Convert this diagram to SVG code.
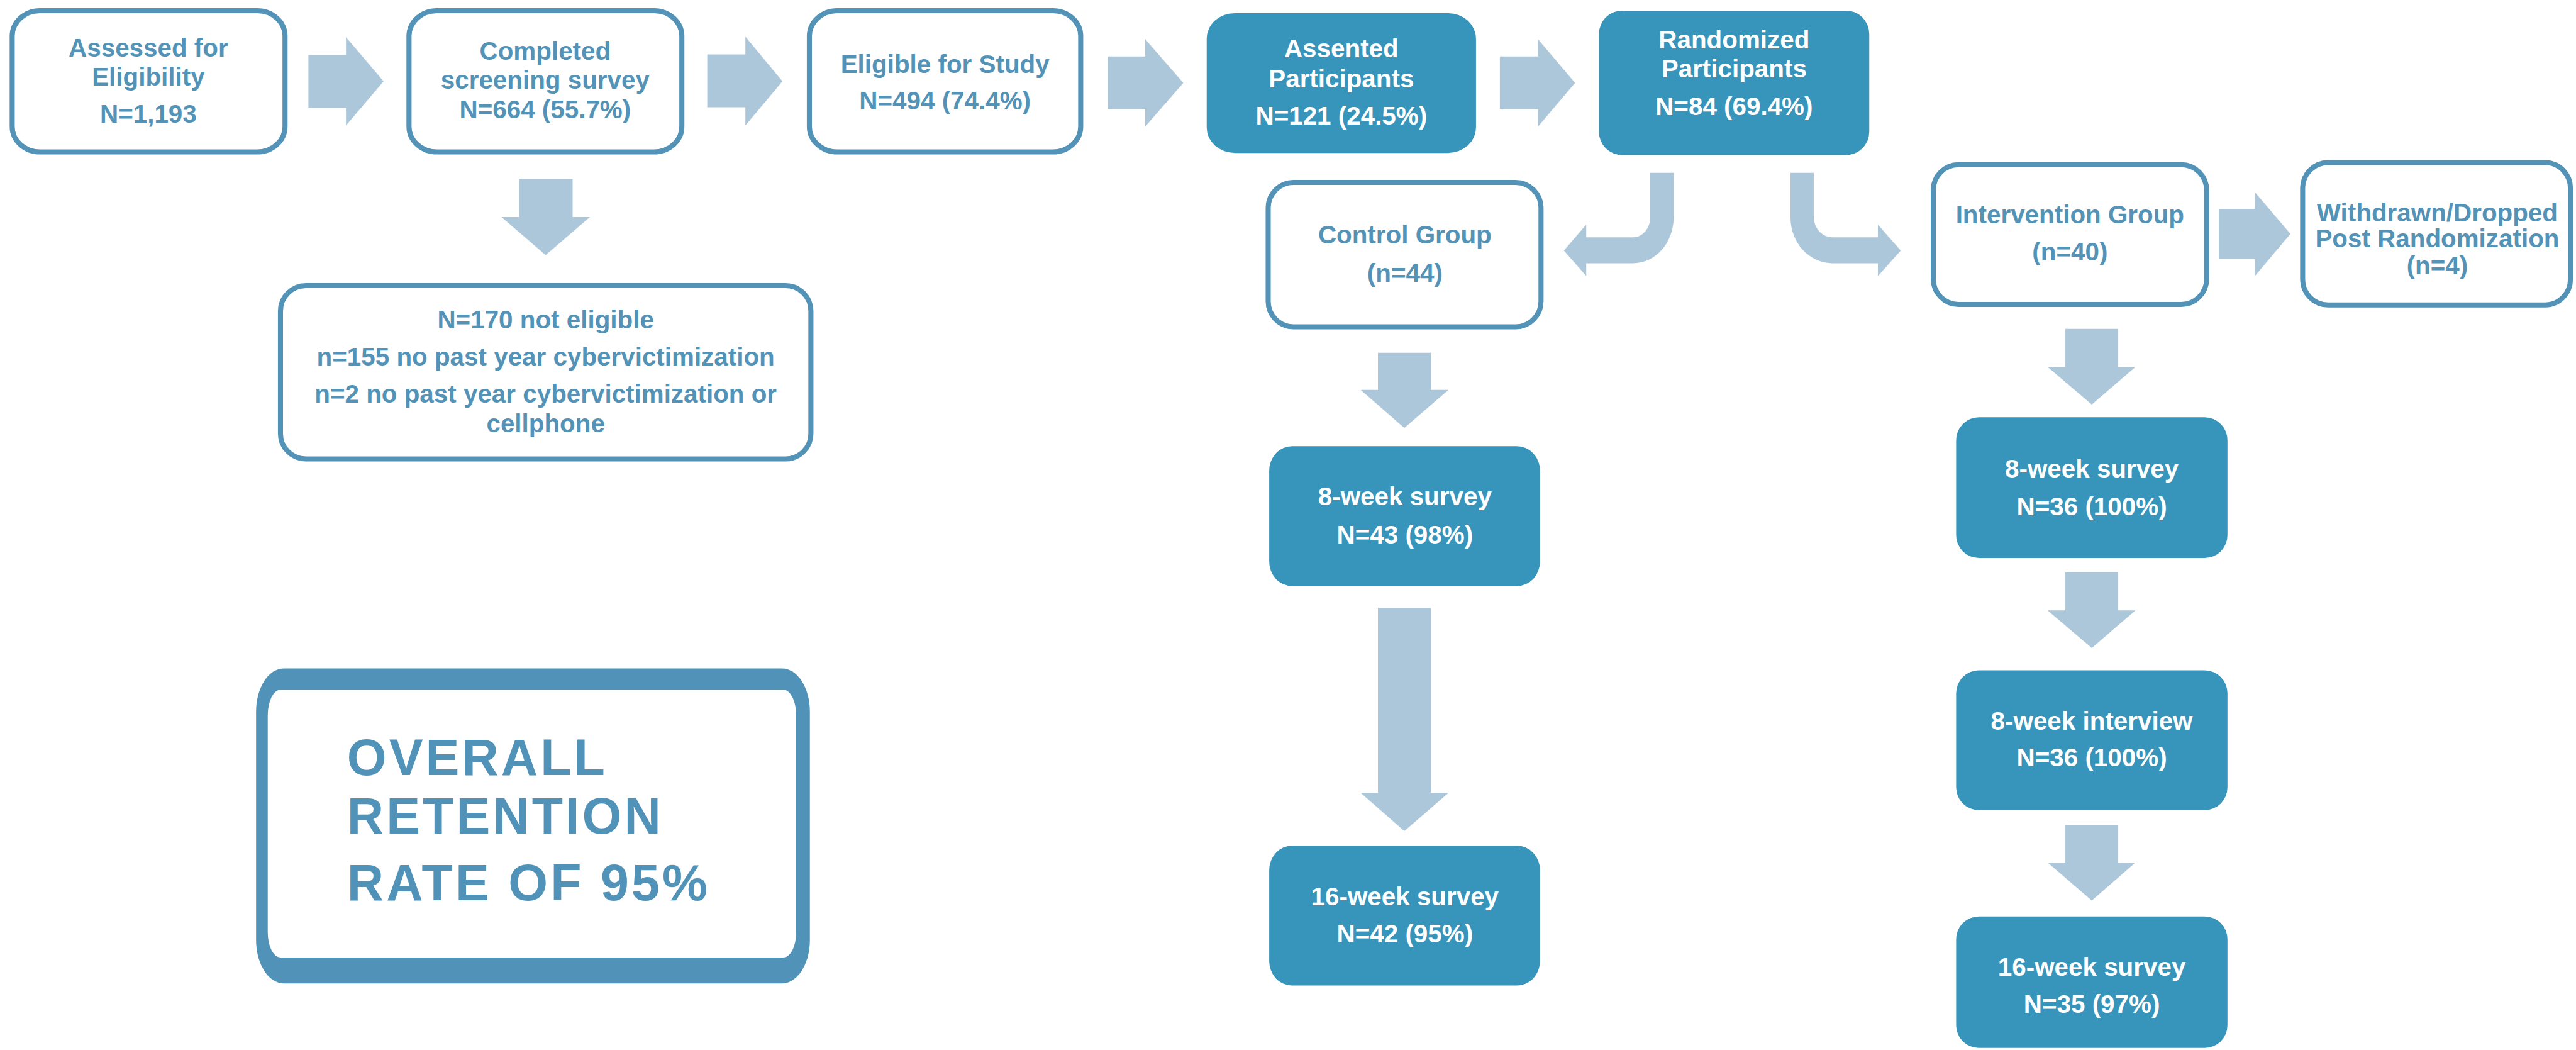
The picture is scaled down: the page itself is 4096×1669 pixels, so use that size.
<svg xmlns="http://www.w3.org/2000/svg" width="4096" height="1669" viewBox="0 0 4096 1669">
<style>
.ob{fill:#fff;stroke:#5293B7;stroke-width:10}
.fb{fill:#3795BB}
.ar{fill:#ADC7DA}
.t{font-family:"Liberation Sans",Arial,sans-serif;font-weight:bold;font-size:50px;text-anchor:middle}
.tb{fill:#5293B7}
.tw{fill:#fff}
.big{font-family:"Liberation Sans",Arial,sans-serif;font-weight:bold;font-size:100px;fill:#5193B8;letter-spacing:5px}
</style>
<rect width="4096" height="1669" fill="#fff"/>
<g transform="scale(0.80789)">
<g id="connectors">
<polygon class="ar" points="607,108 681,108 681,73 755,160 681,247 681,212 607,212"/>
<polygon class="ar" points="1392,107 1467,107 1467,72 1540,160 1467,247 1467,211 1392,211"/>
<polygon class="ar" points="2180,111 2254,111 2254,77 2329,163 2254,249 2254,215 2180,215"/>
<polygon class="ar" points="2952,111 3027,111 3027,77 3100,163 3027,249 3027,215 2952,215"/>
<polygon class="ar" points="1022,352 1127,352 1127,427 1161,427 1074,502 987,427 1022,427"/>
<path class="ar" d="M3248,340 L3294,340 L3294,428 A80,90 0 0 1 3214,518 L3122,518 L3122,543 L3078,493 L3122,442 L3122,467 L3214,467 A34,39 0 0 0 3248,428 Z"/>
<path class="ar" d="M3524,340 L3570,340 L3570,428 A37,39 0 0 0 3607,467 L3696,467 L3696,442 L3741,493 L3696,543 L3696,518 L3607,518 A83,90 0 0 1 3524,428 Z"/>
<polygon class="ar" points="4367,411 4438,411 4438,378 4508,460 4438,543 4438,510 4367,510"/>
<polygon class="ar" points="2712,694 2816,694 2816,767 2851,767 2764,842 2678,767 2712,767"/>
<polygon class="ar" points="2712,1196 2816,1196 2816,1560 2851,1560 2764,1635 2678,1560 2712,1560"/>
<polygon class="ar" points="4065,647 4169,647 4169,722 4203,722 4117,796 4030,722 4065,722"/>
<polygon class="ar" points="4065,1126 4169,1126 4169,1201 4203,1201 4117,1275 4030,1201 4065,1201"/>
<polygon class="ar" points="4065,1623 4169,1623 4169,1697 4203,1697 4117,1772 4030,1697 4065,1697"/>
</g>
<g id="assessed">
<rect class="ob" x="24" y="21" width="537" height="278" rx="55" ry="50"/>
<text class="t tb"><tspan x="292" y="111">Assessed for</tspan><tspan x="292" y="168">Eligibility</tspan><tspan x="292" y="242">N=1,193</tspan></text>
</g>
<g id="completed">
<rect class="ob" x="805" y="21" width="537" height="278" rx="55" ry="50"/>
<text class="t tb"><tspan x="1073" y="118">Completed</tspan><tspan x="1073" y="175">screening survey</tspan><tspan x="1073" y="233">N=664 (55.7%)</tspan></text>
</g>
<g id="eligible">
<rect class="ob" x="1593" y="21" width="534" height="278" rx="55" ry="50"/>
<text class="t tb"><tspan x="1860" y="143">Eligible for Study</tspan><tspan x="1860" y="215">N=494 (74.4%)</tspan></text>
</g>
<g id="assented">
<rect class="fb" x="2375" y="26" width="530" height="275" rx="55" ry="50"/>
<text class="t tw"><tspan x="2640" y="113">Assented</tspan><tspan x="2640" y="172">Participants</tspan><tspan x="2640" y="245">N=121 (24.5%)</tspan></text>
</g>
<g id="randomized">
<rect class="fb" x="3147" y="21" width="532" height="284" rx="45" ry="46"/>
<text class="t tw"><tspan x="3413" y="95">Randomized</tspan><tspan x="3413" y="152">Participants</tspan><tspan x="3413" y="226">N=84 (69.4%)</tspan></text>
</g>
<g id="not-eligible">
<rect class="ob" x="552" y="562" width="1044" height="341" rx="50" ry="50"/>
<text class="t tb"><tspan x="1074" y="646">N=170 not eligible</tspan><tspan x="1074" y="719">n=155 no past year cybervictimization</tspan><tspan x="1074" y="792">n=2 no past year cybervictimization or</tspan><tspan x="1074" y="850">cellphone</tspan></text>
</g>
<g id="control">
<rect class="ob" x="2496" y="359" width="537" height="284" rx="50" ry="50"/>
<text class="t tb"><tspan x="2765" y="479">Control Group</tspan><tspan x="2765" y="554">(n=44)</tspan></text>
</g>
<g id="intervention">
<rect class="ob" x="3805" y="324" width="538" height="275" rx="50" ry="50"/>
<text class="t tb"><tspan x="4074" y="440">Intervention Group</tspan><tspan x="4074" y="513">(n=40)</tspan></text>
</g>
<g id="withdrawn">
<rect class="ob" x="4532" y="320" width="527" height="280" rx="50" ry="50"/>
<text class="t tb"><tspan x="4797" y="436">Withdrawn/Dropped</tspan><tspan x="4797" y="487">Post Randomization</tspan><tspan x="4797" y="540">(n=4)</tspan></text>
</g>
<g id="control-8wk">
<rect class="fb" x="2498" y="878" width="533" height="275" rx="45" ry="48"/>
<text class="t tw"><tspan x="2765" y="994">8-week survey</tspan><tspan x="2765" y="1069">N=43 (98%)</tspan></text>
</g>
<g id="control-16wk">
<rect class="fb" x="2498" y="1664" width="533" height="275" rx="45" ry="48"/>
<text class="t tw"><tspan x="2765" y="1781">16-week survey</tspan><tspan x="2765" y="1854">N=42 (95%)</tspan></text>
</g>
<g id="int-8wk-survey">
<rect class="fb" x="3850" y="821" width="534" height="277" rx="45" ry="45"/>
<text class="t tw"><tspan x="4117" y="940">8-week survey</tspan><tspan x="4117" y="1014">N=36 (100%)</tspan></text>
</g>
<g id="int-8wk-interview">
<rect class="fb" x="3850" y="1319" width="534" height="275" rx="45" ry="45"/>
<text class="t tw"><tspan x="4117" y="1436">8-week interview</tspan><tspan x="4117" y="1508">N=36 (100%)</tspan></text>
</g>
<g id="int-16wk">
<rect class="fb" x="3850" y="1803" width="534" height="259" rx="45" ry="45"/>
<text class="t tw"><tspan x="4117" y="1920">16-week survey</tspan><tspan x="4117" y="1993">N=35 (97%)</tspan></text>
</g>
<g id="retention">
<rect x="504" y="1315" width="1090" height="620" rx="55" ry="85" fill="#5193B8"/>
<rect x="527" y="1357" width="1040" height="527" rx="25" ry="50" fill="#fff"/>
<text class="big"><tspan x="683" y="1525">OVERALL</tspan><tspan x="683" y="1640">RETENTION</tspan><tspan x="683" y="1771">RATE OF 95%</tspan></text>
</g>
</g>
</svg>
